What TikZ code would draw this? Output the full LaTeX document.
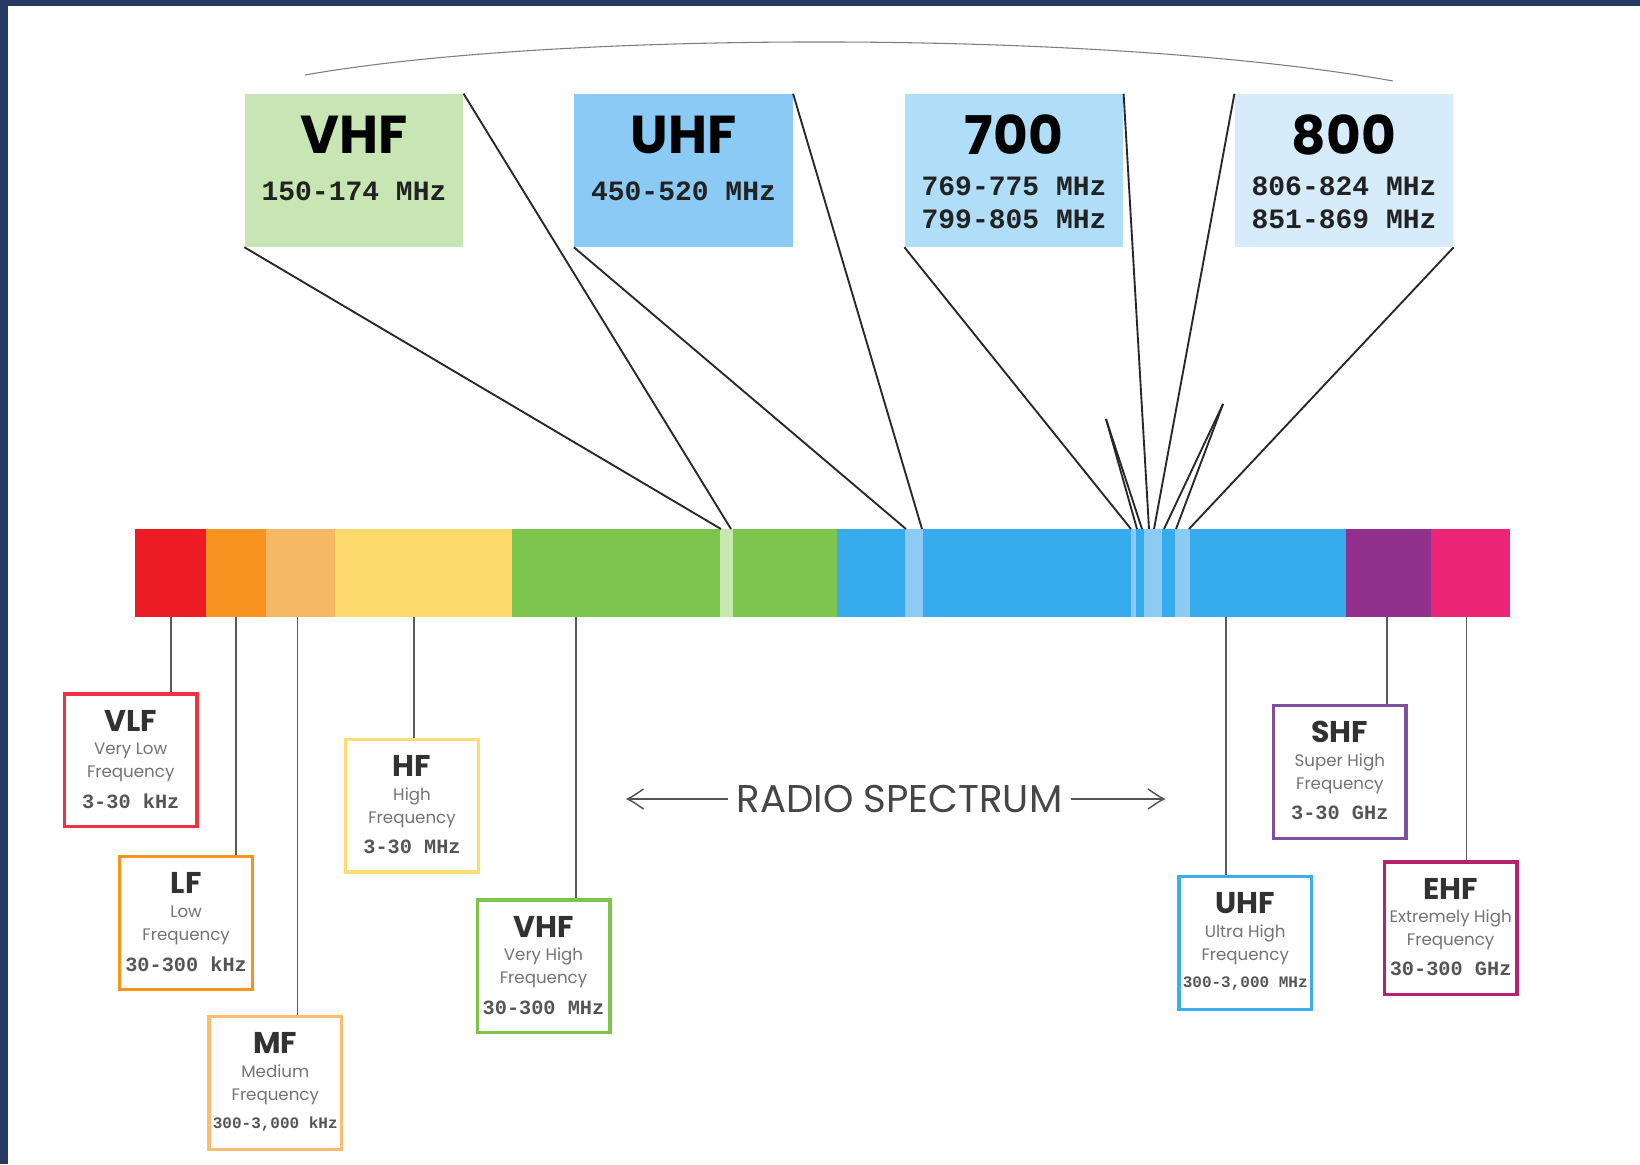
\documentclass[tikz,border=0pt]{standalone}
\usepackage{fontspec}
\newfontfamily\popfont{Poppins}
\newfontfamily\courfont{Liberation Mono}

\begin{document}
\begin{tikzpicture}[x=0.75pt,y=0.75pt,yscale=-1,xscale=1,
	topbox/.style={inner sep=0pt, minimum width=164pt, minimum height=114.75pt},
	toptitle/.style={inner sep=0pt, font=\popfont\bfseries\fontsize{40}{48}\selectfont},
	topfreq/.style={inner sep=0pt, align=left, font=\courfont\bfseries\fontsize{21}{24.75}\selectfont, text={rgb, 255:red, 34; green, 34; blue, 34 }},
	bandbox/.style={line width=2.5pt, fill=white, inner sep=0pt, minimum width=99.5pt, minimum height=99.5pt},
	bandtitle/.style={inner sep=0pt, font=\popfont\bfseries\fontsize{22.5}{27}\selectfont, text={rgb, 255:red, 50; green, 50; blue, 50 }},
	bandname/.style={inner sep=0pt, align=center, font=\popfont\fontsize{12.5}{17.25}\selectfont, text={rgb, 255:red, 115; green, 115; blue, 115 }},
	bandfreq/.style={inner sep=0pt, font=\courfont\bfseries\fontsize{15.2}{19}\selectfont, text={rgb, 255:red, 85; green, 85; blue, 85 }},
	bandfreqsmall/.style={bandfreq, font=\courfont\bfseries\fontsize{12}{15}\selectfont},
	leader/.style={line width=1.4pt, color={rgb, 255:red, 40; green, 40; blue, 40 }},
	stem/.style={line width=1.3pt, color={rgb, 255:red, 90; green, 90; blue, 90 }},
	arrowline/.style={line width=1.1pt, color={rgb, 255:red, 85; green, 85; blue, 85 }}
	]
	\useasboundingbox (0,0) rectangle (1640,1164);
	% frame
	\fill [color={rgb, 255:red, 37; green, 57; blue, 98 }] (0,0) rectangle (1640,1164);
	\fill [white] (8,6) rectangle (1640,1164);
	% spectrum bar
	\fill [color={rgb, 255:red, 237; green, 28; blue, 36 }] (135,529) rectangle (206,617);
	\fill [color={rgb, 255:red, 247; green, 147; blue, 30 }] (206,529) rectangle (266,617);
	\fill [color={rgb, 255:red, 245; green, 185; blue, 101 }] (266,529) rectangle (335,617);
	\fill [color={rgb, 255:red, 253; green, 217; blue, 108 }] (335,529) rectangle (512,617);
	\fill [color={rgb, 255:red, 125; green, 197; blue, 76 }] (512,529) rectangle (837,617);
	\fill [color={rgb, 255:red, 200; green, 230; blue, 176 }] (720,529) rectangle (733,617);
	\fill [color={rgb, 255:red, 54; green, 172; blue, 239 }] (837,529) rectangle (1346,617);
	\fill [color={rgb, 255:red, 141; green, 203; blue, 245 }] (905,529) rectangle (923,617);
	\fill [color={rgb, 255:red, 141; green, 203; blue, 245 }] (1131,529) rectangle (1136,617);
	\fill [color={rgb, 255:red, 141; green, 203; blue, 245 }] (1144,529) rectangle (1162,617);
	\fill [color={rgb, 255:red, 141; green, 203; blue, 245 }] (1175,529) rectangle (1190,617);
	\fill [color={rgb, 255:red, 146; green, 48; blue, 141 }] (1346,529) rectangle (1431,617);
	\fill [color={rgb, 255:red, 236; green, 37; blue, 118 }] (1431,529) rectangle (1510,617);
	% arc over the top boxes
	\draw [line width=0.8pt, color={rgb, 255:red, 125; green, 125; blue, 125 }] (305,75) .. controls (560,30) and (1110,30) .. (1393,81);
	% top boxes
	\node [topbox, fill={rgb, 255:red, 200; green, 230; blue, 180 }] (vhfTop) at (354,170.5) {};
	\node [toptitle] (vhfTopT) at ([yshift=31pt]vhfTop.north) {VHF};
	\node [topfreq] (vhfTopF) at ([yshift=73.5pt]vhfTop.north) {150-174 MHz};
	\node [topbox, fill={rgb, 255:red, 138; green, 202; blue, 244 }] (uhfTop) at (683.5,170.5) {};
	\node [toptitle] (uhfTopT) at ([yshift=31pt]uhfTop.north) {UHF};
	\node [topfreq] (uhfTopF) at ([yshift=73.5pt]uhfTop.north) {450-520 MHz};
	\node [topbox, fill={rgb, 255:red, 176; green, 222; blue, 249 }] (top700) at (1014,170.5) {};
	\node [toptitle] (top700T) at ([yshift=31pt]top700.north) {700};
	\node [topfreq] (top700F) at ([yshift=81.4pt]top700.north) {769-775 MHz\\799-805 MHz};
	\node [topbox, fill={rgb, 255:red, 214; green, 236; blue, 251 }] (top800) at (1344,170.5) {};
	\node [toptitle] (top800T) at ([yshift=31pt]top800.north) {800};
	\node [topfreq] (top800F) at ([yshift=81.4pt]top800.north) {806-824 MHz\\851-869 MHz};
	% points on the bar
	\coordinate (gA) at (721,529);
	\coordinate (gB) at (731,529);
	\coordinate (uA) at (906,529);
	\coordinate (uB) at (922,529);
	\coordinate (sA) at (1131,529);
	\coordinate (sB) at (1149,529);
	\coordinate (eA) at (1154,529);
	\coordinate (eB) at (1189,529);
	\coordinate (kA) at (1106,419);
	\coordinate (kB) at (1223,404);
	\coordinate (kA1) at (1137,529);
	\coordinate (kA2) at (1142,529);
	\coordinate (kB1) at (1164,529);
	\coordinate (kB2) at (1176,529);
	% leaders
	\draw [leader] (vhfTop.south west) -- (gA);
	\draw [leader] (vhfTop.north east) -- (gB);
	\draw [leader] (uhfTop.south west) -- (uA);
	\draw [leader] (uhfTop.north east) -- (uB);
	\draw [leader] (top700.south west) -- (sA);
	\draw [leader] (top700.north east) -- (sB);
	\draw [leader] (top800.north west) -- (eA);
	\draw [leader] (top800.south east) -- (eB);
	\draw [leader] (kA) -- (kA1);
	\draw [leader] (kA) -- (kA2);
	\draw [leader] (kB) -- (kB1);
	\draw [leader] (kB) -- (kB2);
	% band boxes
	\node [bandbox, draw={rgb, 255:red, 238; green, 51; blue, 68 }] (vlf) at (130.7,760.3) {};
	\node [bandtitle] (vlfT) at ([yshift=21.25pt]vlf.north) {VLF};
	\node [bandname] (vlfN) at ([yshift=52.4pt]vlf.north) {Very Low\\Frequency};
	\node [bandfreq] (vlfF) at ([yshift=81.7pt]vlf.north) {3-30 kHz};
	\node [bandbox, draw={rgb, 255:red, 247; green, 148; blue, 30 }] (lf) at (186.1,923) {};
	\node [bandtitle] (lfT) at ([yshift=21.25pt]lf.north) {LF};
	\node [bandname] (lfN) at ([yshift=52.4pt]lf.north) {Low\\Frequency};
	\node [bandfreq] (lfF) at ([yshift=81.7pt]lf.north) {30-300 kHz};
	\node [bandbox, draw={rgb, 255:red, 251; green, 190; blue, 110 }] (mf) at (275.3,1083) {};
	\node [bandtitle] (mfT) at ([yshift=21.25pt]mf.north) {MF};
	\node [bandname] (mfN) at ([yshift=52.4pt]mf.north) {Medium\\Frequency};
	\node [bandfreqsmall] (mfF) at ([yshift=81.7pt]mf.north) {300-3,000 kHz};
	\node [bandbox, draw={rgb, 255:red, 253; green, 220; blue, 115 }] (hf) at (412,805.7) {};
	\node [bandtitle] (hfT) at ([yshift=21.25pt]hf.north) {HF};
	\node [bandname] (hfN) at ([yshift=52.4pt]hf.north) {High\\Frequency};
	\node [bandfreq] (hfF) at ([yshift=81.7pt]hf.north) {3-30 MHz};
	\node [bandbox, draw={rgb, 255:red, 125; green, 197; blue, 76 }] (vhf) at (543.5,966.4) {};
	\node [bandtitle] (vhfT) at ([yshift=21.25pt]vhf.north) {VHF};
	\node [bandname] (vhfN) at ([yshift=52.4pt]vhf.north) {Very High\\Frequency};
	\node [bandfreq] (vhfF) at ([yshift=81.7pt]vhf.north) {30-300 MHz};
	\node [bandbox, draw={rgb, 255:red, 58; green, 174; blue, 239 }] (uhf) at (1245.2,942.9) {};
	\node [bandtitle] (uhfT) at ([yshift=21.25pt]uhf.north) {UHF};
	\node [bandname] (uhfN) at ([yshift=52.4pt]uhf.north) {Ultra High\\Frequency};
	\node [bandfreqsmall] (uhfF) at ([yshift=81.7pt]uhf.north) {300-3,000 MHz};
	\node [bandbox, draw={rgb, 255:red, 127; green, 79; blue, 160 }] (shf) at (1339.8,771.9) {};
	\node [bandtitle] (shfT) at ([yshift=21.25pt]shf.north) {SHF};
	\node [bandname] (shfN) at ([yshift=52.4pt]shf.north) {Super High\\Frequency};
	\node [bandfreq] (shfF) at ([yshift=81.7pt]shf.north) {3-30 GHz};
	\node [bandbox, draw={rgb, 255:red, 183; green, 33; blue, 111 }] (ehf) at (1450.6,928.3) {};
	\node [bandtitle] (ehfT) at ([yshift=21.25pt]ehf.north) {EHF};
	\node [bandname] (ehfN) at ([yshift=52.4pt]ehf.north) {Extremely High\\Frequency};
	\node [bandfreq] (ehfF) at ([yshift=81.7pt]ehf.north) {30-300 GHz};
	% stems from the bar
	\coordinate (pVLF) at (171,617);
	\coordinate (pLF) at (236,617);
	\coordinate (pMF) at (297.5,617);
	\coordinate (pHF) at (414,617);
	\coordinate (pVHF) at (576,617);
	\coordinate (pUHF) at (1226,617);
	\coordinate (pSHF) at (1387,617);
	\coordinate (pEHF) at (1466.5,617);
	\draw [stem] (pVLF) -- (pVLF |- vlf.north);
	\draw [stem] (pLF) -- (pLF |- lf.north);
	\draw [stem] (pMF) -- (pMF |- mf.north);
	\draw [stem] (pHF) -- (pHF |- hf.north);
	\draw [stem] (pVHF) -- (pVHF |- vhf.north);
	\draw [stem] (pUHF) -- (pUHF |- uhf.north);
	\draw [stem] (pSHF) -- (pSHF |- shf.north);
	\draw [stem] (pEHF) -- (pEHF |- ehf.north);
	% radio spectrum label and arrows
	\node [inner xsep=6.5pt, inner ysep=0pt, font=\popfont\fontsize{29}{34}\selectfont, text={rgb, 255:red, 70; green, 70; blue, 70 }] (spec) at (899.5,799) {RADIO SPECTRUM};
	\coordinate (arrL) at (627.5,799);
	\coordinate (arrR) at (1164,799);
	\draw [arrowline] (spec.west) -- (arrL);
	\draw [arrowline, shift={(arrL)}, rotate=0] (16,-10) .. controls (10,-6) and (4,-1.5) .. (0,0) .. controls (4,1.5) and (10,6) .. (16,10);
	\draw [arrowline] (spec.east) -- (arrR);
	\draw [arrowline, shift={(arrR)}, rotate=180] (16,-10) .. controls (10,-6) and (4,-1.5) .. (0,0) .. controls (4,1.5) and (10,6) .. (16,10);
\end{tikzpicture}
\end{document}
